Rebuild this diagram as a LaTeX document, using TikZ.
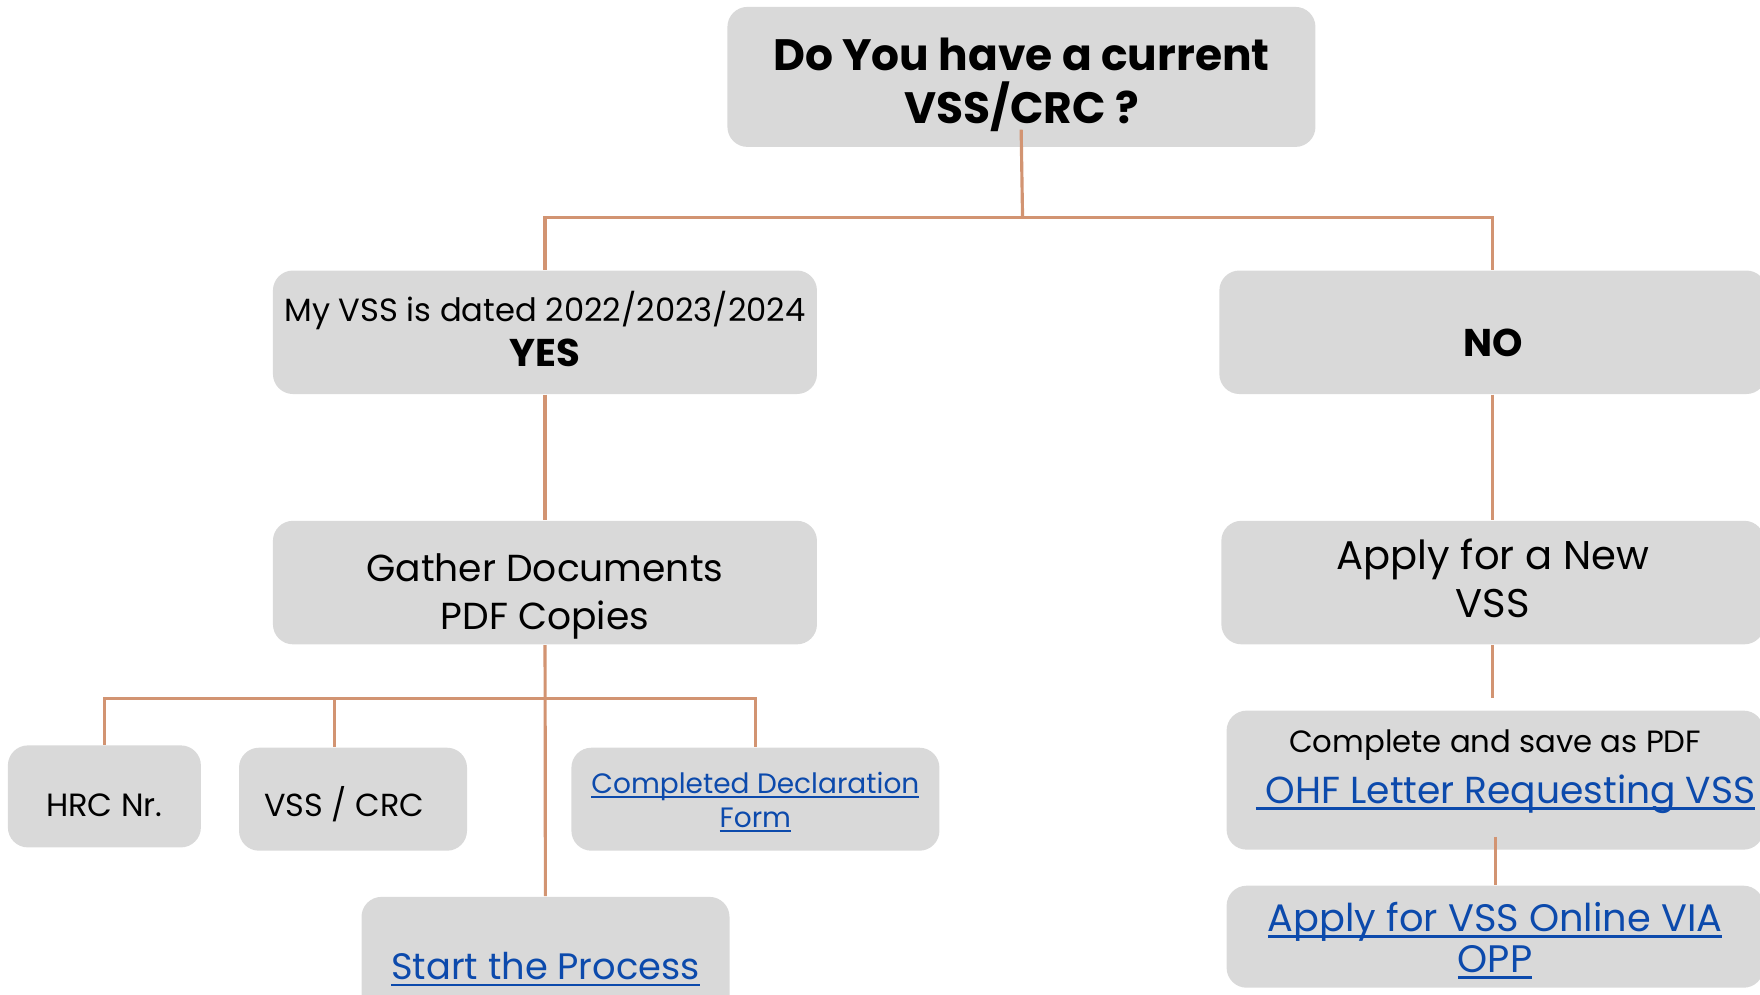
\documentclass[tikz,border=0pt]{standalone}
\usepackage{fontspec}
\setmainfont{Poppins}

\definecolor{boxgray}{HTML}{D9D9D9}
\definecolor{linkblue}{RGB}{12,74,172}
\definecolor{wirebrown}{RGB}{210,148,114}

% underlined hyperlink look
\newcommand{\weblink}[1]{\textcolor{linkblue}{\setbox0\hbox{#1}\rlap{\rule[-0.17em]{\wd0}{0.07em}}\box0}}

\tikzset{
  box/.style={fill=boxgray, rounded corners=2mm, inner sep=0pt, align=center},
  wire/.style={draw=wirebrown, line width=0.9pt},
  sink/.style={text height=#1, text depth=0pt},
}

\begin{document}
\begin{tikzpicture}[x=0.11225mm, y=-0.11225mm]
  \useasboundingbox (0,0) rectangle (1568,886.4);
  \clip (0,0) rectangle (1568,886.4);

  % Question
  \node[box, sink=26.5pt, minimum width=58.8mm, minimum height=14mm, font=\bfseries\fontsize{12.5}{15}\selectfont] (question) at (910,68.5) {Do You have a current\\VSS/CRC ?};

  % Answers
  \node[box, sink=19.2pt, minimum width=54.4mm, minimum height=12.35mm, font=\fontsize{9.15}{12.7}\selectfont] (yes) at (485.5,296) {My VSS is dated 2022/2023/2024\\{\bfseries\fontsize{11}{12.7}\selectfont YES}};
  \node[box, sink=14pt, minimum width=54.7mm, minimum height=12.35mm, font=\bfseries\fontsize{11}{13}\selectfont] (no) at (1330,296) {NO};

  % Next steps
  \node[box, sink=26.8pt, minimum width=54.4mm, minimum height=12.35mm, font=\fontsize{10.7}{13.7}\selectfont] (gather) at (485.5,519) {Gather Documents\\PDF Copies};
  \node[box, sink=19.8pt, minimum width=54.3mm, minimum height=12.35mm, font=\fontsize{11.4}{13.7}\selectfont] (apply) at (1330,519) {Apply for a New\\VSS};

  % New VSS route
  \node[box, sink=13.4pt, minimum width=53.7mm, minimum height=13.9mm, font=\fontsize{8.75}{14.7}\selectfont] (complete) at (1332,695) {Complete and save as PDF\\{\fontsize{10.7}{14.7}\selectfont\kern6pt\weblink{\ OHF Letter Requesting VSS}}};
  \node[box, sink=20.1pt, minimum width=53.7mm, minimum height=10.2mm, font=\fontsize{10.9}{11.5}\selectfont] (online) at (1332,834.5) {\weblink{Apply for VSS Online VIA}\\\weblink{OPP}};

  % Documents
  \node[box, sink=11.2pt, minimum width=19.3mm, minimum height=10.2mm, font=\fontsize{9.15}{10}\selectfont] (hrc) at (93,709.5) {HRC Nr.};
  \node[box, sink=9.6pt, minimum width=22.8mm, minimum height=10.3mm, font=\fontsize{9.07}{10}\selectfont] (vsscrc) at (314.5,712) {VSS / CRC\kern5pt};
  \node[box, sink=16pt, minimum width=36.8mm, minimum height=10.3mm, font=\fontsize{7.97}{9.6}\selectfont] (declform) at (673,712) {\weblink{Completed Declaration}\\\weblink{Form}};
  \node[box, sink=8pt, minimum width=36.8mm, minimum height=13.8mm, font=\fontsize{10.47}{12}\selectfont] (start) at (486,860.5) {\weblink{Start the Process}};

  % Connectors
  \coordinate (fork) at (911,194);
  \coordinate (branch) at (486,622);
  \draw[wire, shorten <=-1.8mm] (question.south) -- (fork);
  \draw[wire] (fork) -| (yes.north);
  \draw[wire] (fork) -| (no.north);
  \draw[wire] (yes) -- (gather);
  \draw[wire] (no) -- (apply);
  \draw[wire, shorten >=1.2mm] (apply.south) -- (apply.south |- complete.north);
  \draw[wire, shorten <=-1.35mm] (complete.south) -- (online.north);
  \draw[wire] (gather) -- (start);
  \draw[wire] (branch) -| (hrc.north);
  \draw[wire] (branch) -| ([xshift=-1.85mm]vsscrc.north);
  \draw[wire] (branch) -| (declform.north);

\end{tikzpicture}
\end{document}
